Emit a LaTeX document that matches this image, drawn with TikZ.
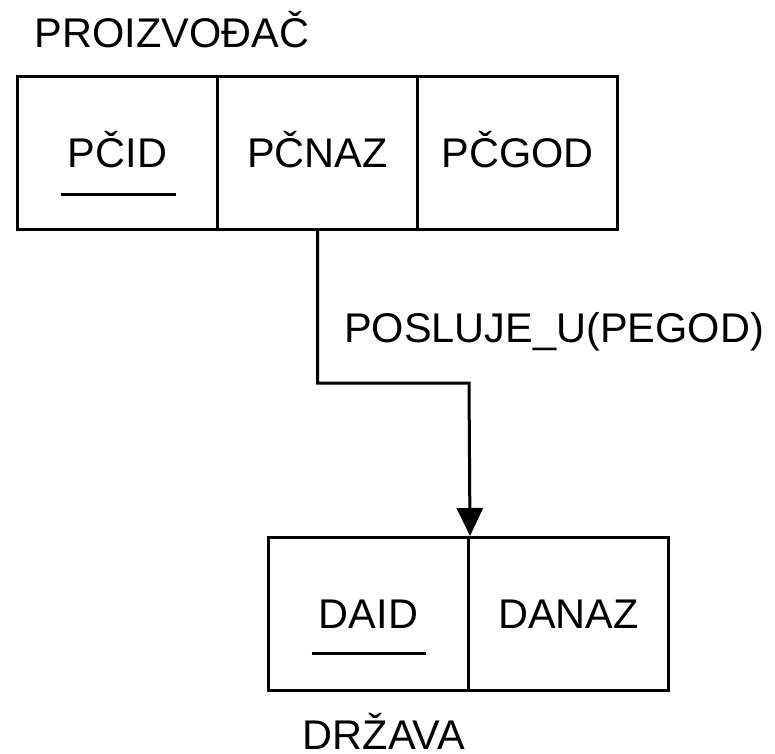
\documentclass[tikz,border=0pt]{standalone}
\usepackage{fontspec}
\setmainfont{Liberation Sans}
\usetikzlibrary{arrows.meta}
\tikzset{
  attr/.style={draw, line width=3pt, minimum width=200pt, minimum height=153pt,
    inner sep=0pt, text height=28pt, text depth=0pt, font=\fontsize{41.5}{48}\selectfont},
  lbl/.style={font=\fontsize{41.5}{48}\selectfont, inner sep=0pt, anchor=base},
  link/.style={line width=3pt, -{Triangle[width=26pt,length=28pt]}}
}
\begin{document}
\begin{tikzpicture}[x=1pt, y=-1pt]
  \useasboundingbox (0,0) rectangle (775,753);

  % Entity PROIZVODJAC
  \node[lbl] (proiz) at (172,47) {PROIZVOĐAČ};
  \node[attr] (pcid) at (117.5,153) {PČID};
  \node[attr] (pcnaz) at (317.5,153) {PČNAZ};
  \node[attr] (pcgod) at (517.5,153) {PČGOD};

  % Entity DRZAVA
  \node[attr] (daid) at (368.5,614) {DAID};
  \node[attr] (danaz) at (568.5,614) {DANAZ};
  \node[lbl] (drz) at (384,749) {DRŽAVA};

  % Key underlines
  \draw[line width=3pt] ([xshift=-57pt,yshift=37pt]pcid.south) -- ++(115,0);
  \draw[line width=3pt] ([xshift=-57pt,yshift=39pt]daid.south) -- ++(114,0);

  % Relationship
  \draw[link] (pcnaz.south) |- (469,383) -- (daid.north east);
  \node[lbl] (posl) at (554,342) {POSLUJE\_U(PEGOD)};
\end{tikzpicture}
\end{document}
